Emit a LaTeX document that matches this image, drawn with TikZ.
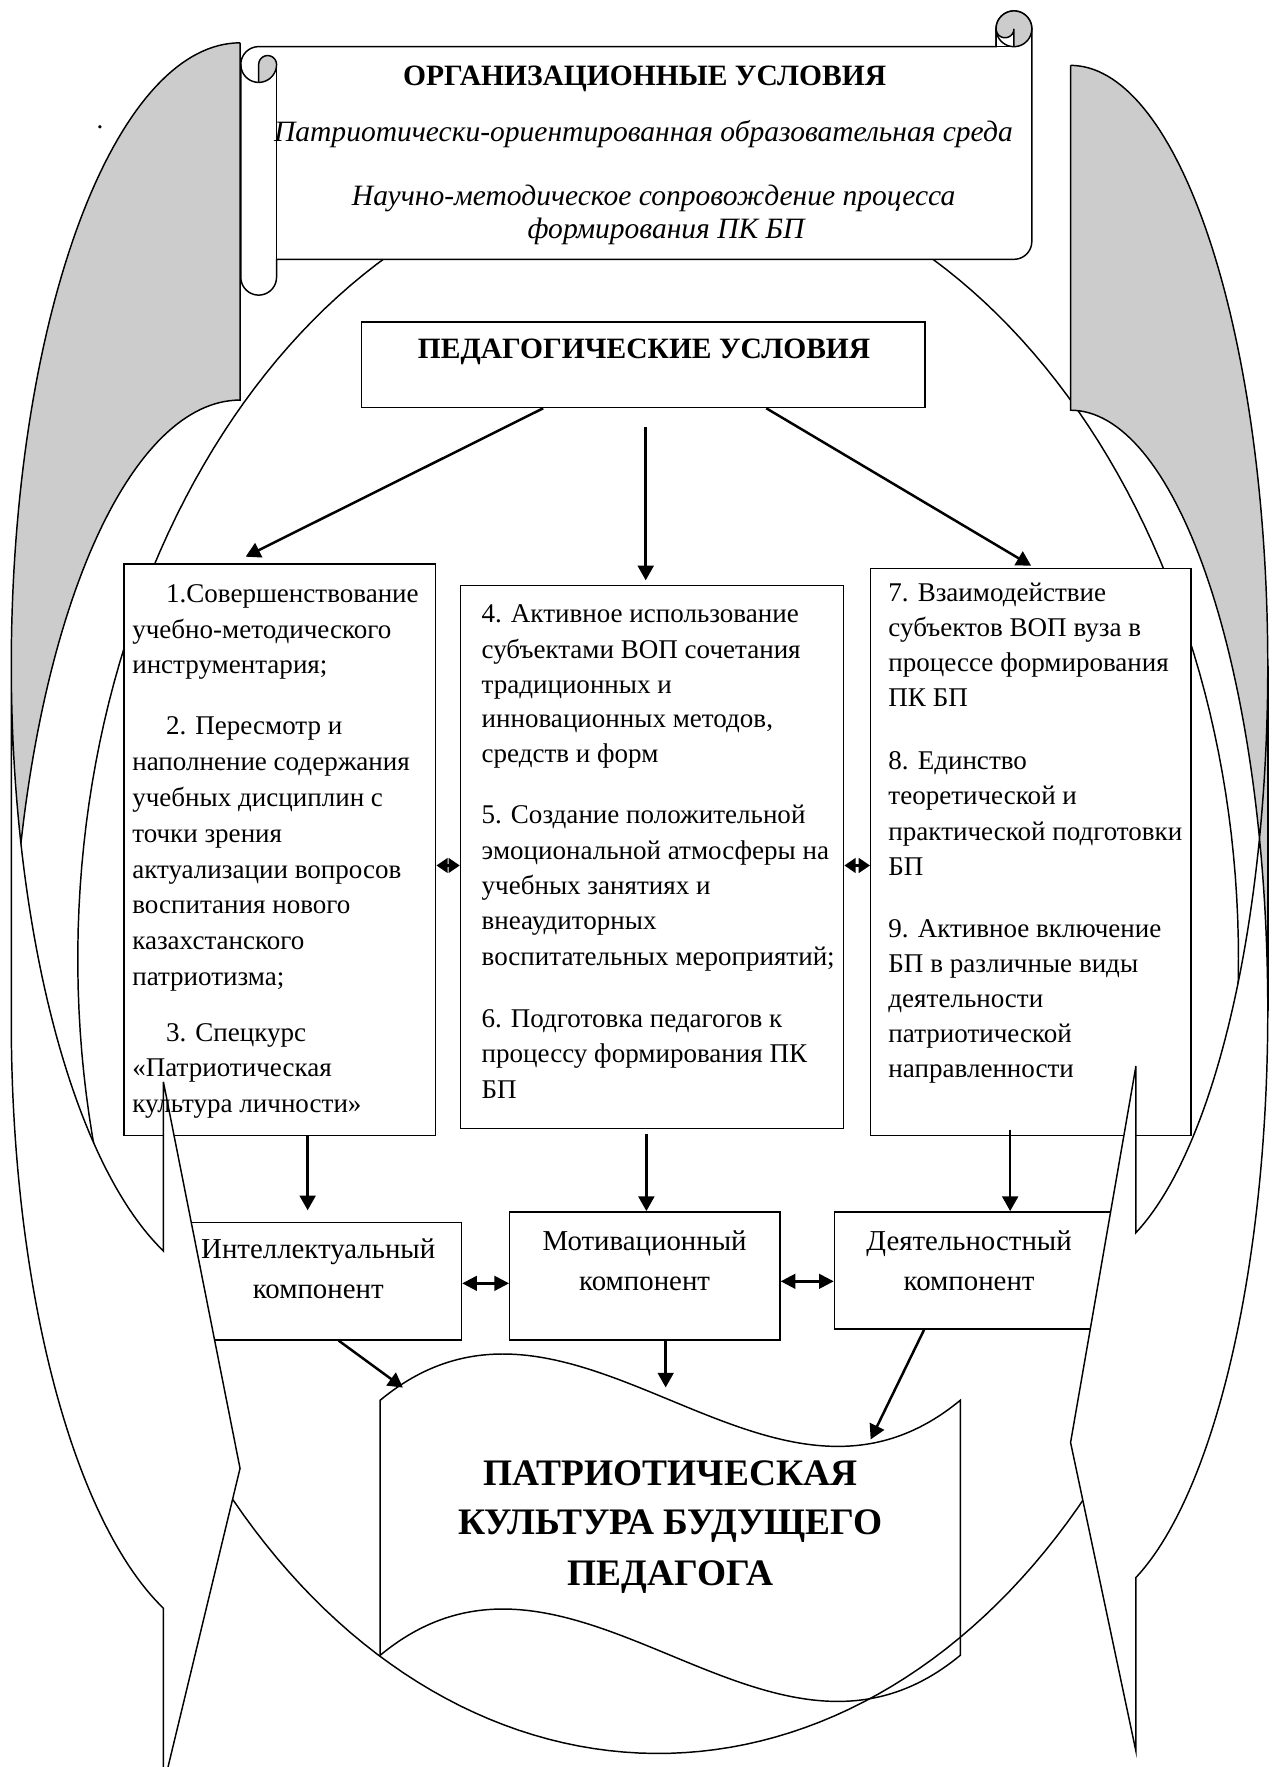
\documentclass[tikz,border=0pt]{standalone}
\usepackage{fontspec}
\setmainfont{Liberation Serif}
\usetikzlibrary{arrows.meta,calc}
\begin{document}
\begin{tikzpicture}[x=0.5pt,y=-0.5pt,
  shp/.style={draw=black,line width=0.65pt},
  wbox/.style={shp,fill=white,rectangle,inner sep=0pt,anchor=north west},
  conn/.style={line width=1.1pt,-{Triangle[length=6.5pt,width=7pt]}},
  dconn/.style={line width=1.1pt,{Triangle[length=5pt,width=6.5pt]}-{Triangle[length=5pt,width=6.5pt]}},
  dconnw/.style={line width=1.1pt,{Triangle[length=6.5pt,width=6.5pt]}-{Triangle[length=6.5pt,width=6.5pt]}},
  body/.style={inner sep=0pt,anchor=base west,font=\fontsize{12}{15}\selectfont},
  cbody/.style={inner sep=0pt,anchor=base,font=\fontsize{12.8}{15}\selectfont},
  head/.style={inner sep=0pt,anchor=base,font=\fontsize{13.1}{15}\selectfont\bfseries},
  ital/.style={inner sep=0pt,anchor=base,font=\fontsize{13.1}{15}\selectfont\itshape},
  big/.style={inner sep=0pt,anchor=base,font=\fontsize{16.6}{20}\selectfont\bfseries},
  grayfill/.style={fill=black!20}
]
\useasboundingbox (0,0) rectangle (1128,1568);
\fill[white] (0,0) rectangle (1128,1568);

% central ellipse
\draw[shp] plot[domain=0:360,samples=240,variable=\t] ({584+515*cos(\t)},{851-705*sin(\t)}) -- cycle;

% scroll
\path[shp,fill=white] plot[domain=180:90,samples=20,variable=\t] ({229.55+15.85*cos(\t)},{57.25-15.85*sin(\t)})
  -- (883.9,41.4) -- (883.9,25.55)
  -- plot[domain=180:0,samples=30,variable=\t] ({899.75+15.85*cos(\t)},{25.55-15.85*sin(\t)})
  -- (915.6,214.25)
  -- plot[domain=0:-90,samples=15,variable=\t] ({899.75+15.85*cos(\t)},{214.25-15.85*sin(\t)})
  -- (245.4,230.1) -- (245.4,246)
  -- plot[domain=0:-180,samples=30,variable=\t] ({229.55+15.85*cos(\t)},{246-15.85*sin(\t)})
  -- cycle;
% right curl
\fill[grayfill] (899.75,25.55) circle[radius=7.925pt];
\fill[white] (883.9,41.4) -- (883.9,25.55)
  -- plot[domain=180:360,samples=20,variable=\t] ({891.825+7.925*cos(\t)},{25.55-7.925*sin(\t)})
  -- (899.75,41.4) -- cycle;
\draw[shp] plot[domain=90:-270,samples=60,variable=\t] ({899.75+15.85*cos(\t)},{25.55-15.85*sin(\t)});
\draw[shp] (883.9,41.4) -- (883.9,25.55) -- plot[domain=180:360,samples=20,variable=\t] ({891.825+7.925*cos(\t)},{25.55-7.925*sin(\t)}) -- (899.75,41.4);
\draw[shp] (883.9,41.4) -- (899.75,41.4);
% left curl
\path[shp,grayfill] (229.55,73.1) -- (229.55,57.25)
  -- plot[domain=180:0,samples=20,variable=\t] ({237.475+7.925*cos(\t)},{57.25-7.925*sin(\t)})
  -- plot[domain=0:-90,samples=15,variable=\t] ({229.55+15.85*cos(\t)},{57.25-15.85*sin(\t)});
\draw[shp] plot[domain=-90:-180,samples=15,variable=\t] ({229.55+15.85*cos(\t)},{57.25-15.85*sin(\t)});
\draw[shp] (245.4,57.25) -- (245.4,230.1);

% boxes
\node[wbox,minimum width=250pt,minimum height=38pt] (ped) at (320,285) {};
\node[wbox,minimum width=138.25pt,minimum height=253.5pt] (b1) at (109.5,500) {};
\node[wbox,minimum width=170pt,minimum height=240.85pt] (b2) at (408,519) {};
\node[wbox,minimum width=142pt,minimum height=251.5pt] (b3) at (772,504) {};
\node[wbox,minimum width=126.45pt,minimum height=52.15pt] (intel) at (156,1084) {};
\node[wbox,minimum width=119.9pt,minimum height=56.85pt] (motiv) at (451.7,1074.7) {};
\node[wbox,minimum width=127.6pt,minimum height=52pt] (activ) at (739.8,1074.7) {};

% left curved arrow
\path[fill=white] plot[domain=180:250.43,samples=60,variable=\t] ({213+203*cos(\t)},{590-552*sin(\t)})
  -- (145,960) -- (213,1303) -- (145,1585)
  -- plot[domain=250.43:180,samples=60,variable=\t] ({213+203*cos(\t)},{907-552*sin(\t)}) -- cycle;
\path[grayfill] plot[domain=90:196.69,samples=80,variable=\t] ({213+203*cos(\t)},{590-552*sin(\t)})
  -- plot[domain=163.31:90,samples=60,variable=\t] ({213+203*cos(\t)},{907-552*sin(\t)}) -- cycle;
\draw[shp] plot[domain=90:250.43,samples=120,variable=\t] ({213+203*cos(\t)},{590-552*sin(\t)})
  -- (145,960) -- (213,1303) -- (145,1585)
  -- plot[domain=250.43:180,samples=60,variable=\t] ({213+203*cos(\t)},{907-552*sin(\t)}) -- (10,590);
\draw[shp] plot[domain=163.31:90,samples=60,variable=\t] ({213+203*cos(\t)},{907-552*sin(\t)}) -- (213,38);

% right curved arrow
\path[fill=white] plot[domain=0:-70.65,samples=60,variable=\t] ({950+175*cos(\t)},{591-533*sin(\t)})
  -- (1008,946) -- (950,1280) -- (1008,1554)
  -- plot[domain=-70.65:0,samples=60,variable=\t] ({950+175*cos(\t)},{897-533*sin(\t)}) -- cycle;
\path[grayfill] plot[domain=90:0,samples=60,variable=\t] ({950+175*cos(\t)},{591-533*sin(\t)})
  -- plot[domain=0:90,samples=60,variable=\t] ({950+175*cos(\t)},{897-533*sin(\t)}) -- cycle;
\draw[shp] plot[domain=90:-70.65,samples=120,variable=\t] ({950+175*cos(\t)},{591-533*sin(\t)})
  -- (1008,946) -- (950,1280) -- (1008,1554)
  -- plot[domain=-70.65:90,samples=120,variable=\t] ({950+175*cos(\t)},{897-533*sin(\t)}) -- (950,58);
\draw[shp] (1125,591) -- (1125,897);

% wave
\draw[shp] (337.4,1242.5) .. controls (509,1100.5) and (680.6,1384.5) .. (852.2,1242.5)
  -- (852.2,1468.8) .. controls (680.6,1610.8) and (509,1326.8) .. (337.4,1468.8) -- cycle;
\coordinate (wt1) at (357.5,1231.3);
\coordinate (wt2) at (590.7,1231.2);
\coordinate (wt3) at (772.6,1277.3);

% connectors
\draw[conn] (ped.south -| 482,0) -- ($(b1.north -| 218,0)+(0,-6)$);
\draw[conn] ($(ped.south -| 573,0)+(0,17)$) -- ($(b2.north -| 573,0)+(0,-4)$);
\draw[conn] (ped.south -| 680,0) -- ($(b3.north -| 915,0)+(0,-2)$);
\draw[conn] (b1.south -| 273,0) -- ($(intel.north -| 273,0)+(0,-10)$);
\draw[conn] ($(b2.south -| 573.6,0)+(0,4)$) -- (motiv.north -| 573.6,0);
\draw[conn] ($(b3.south -| 896.4,0)+(0,-6)$) -- (activ.north -| 896.4,0);
\draw[dconn] (b1.east |- 0,768) -- (b2.west |- 0,768);
\draw[dconn] (b2.east |- 0,768) -- (b3.west |- 0,768);
\draw[dconnw] (intel.east |- 0,1138.8) -- (motiv.west |- 0,1138.8);
\draw[dconnw] (motiv.east |- 0,1137) -- (activ.west |- 0,1137);
\draw[conn] (intel.south -| 300.5,0) -- (wt1);
\draw[conn] (motiv.south -| 590.7,0) -- (wt2);
\draw[conn] (activ.south -| 820,0) -- (wt3);

% texts
\node[inner sep=0pt,anchor=base,font=\fontsize{12}{14}\selectfont] (dot) at (88.7,114) {.};
\node[head] (s1) at (572,76) {ОРГАНИЗАЦИОННЫЕ УСЛОВИЯ};
\node[ital] (s2) at (571,126) {Патриотически-ориентированная образовательная среда};
\node[ital] (s3) at (580,182) {Научно-методическое сопровождение процесса};
\node[ital] (s4) at (591,212) {формирования ПК БП};
\node[head] (p1) at (571.5,318) {ПЕДАГОГИЧЕСКИЕ УСЛОВИЯ};

\node[body] (a1) at (147,535) {1.Совершенствование};
\node[body] (a2) at (117,566.5) {учебно-методического};
\node[body] (a3) at (117,598) {инструментария;};
\node[body] (a4) at (147,652) {2. Пересмотр и};
\node[body] (a5) at (117,683.8) {наполнение содержания};
\node[body] (a6) at (117,715.6) {учебных дисциплин с};
\node[body] (a7) at (117,747.4) {точки зрения};
\node[body] (a8) at (117,779.2) {актуализации вопросов};
\node[body] (a9) at (117,811) {воспитания нового};
\node[body] (a10) at (117,842.8) {казахстанского};
\node[body] (a11) at (117,874.6) {патриотизма;};
\node[body] (a12) at (147,924) {3. Спецкурс};
\node[body] (a13) at (117,955.5) {«Патриотическая};
\node[body] (a14) at (117,987) {культура личности»};

\node[body] (c1) at (427,552) {4. Активное использование};
\node[body] (c2) at (427,584) {субъектами ВОП сочетания};
\node[body] (c3) at (427,615) {традиционных и};
\node[body] (c4) at (427,646) {инновационных методов,};
\node[body] (c5) at (427,677) {средств и форм};
\node[body] (c6) at (427,731) {5. Создание положительной};
\node[body] (c7) at (427,763) {эмоциональной атмосферы на};
\node[body] (c8) at (427,794) {учебных занятиях и};
\node[body] (c9) at (427,825) {внеаудиторных};
\node[body] (c10) at (427,857) {воспитательных мероприятий;};
\node[body] (c11) at (427,912) {6. Подготовка педагогов к};
\node[body] (c12) at (427,943) {процессу формирования ПК};
\node[body] (c13) at (427,975) {БП};

\node[body] (d1) at (788,534) {7. Взаимодействие};
\node[body] (d2) at (788,565) {субъектов ВОП вуза в};
\node[body] (d3) at (788,596) {процессе формирования};
\node[body] (d4) at (788,627) {ПК БП};
\node[body] (d5) at (788,683) {8. Единство};
\node[body] (d6) at (788,714) {теоретической и};
\node[body] (d7) at (788,746) {практической подготовки};
\node[body] (d8) at (788,777) {БП};
\node[body] (d9) at (788,832) {9. Активное включение};
\node[body] (d10) at (788,863) {БП в различные виды};
\node[body] (d11) at (788,894) {деятельности};
\node[body] (d12) at (788,925) {патриотической};
\node[body] (d13) at (788,956) {направленности};

\node[cbody] (i1) at (282.4,1117) {Интеллектуальный};
\node[cbody] (i2) at (282.4,1152) {компонент};
\node[cbody] (m1) at (572,1110) {Мотивационный};
\node[cbody] (m2) at (572,1145) {компонент};
\node[cbody] (e1) at (860,1110) {Деятельностный};
\node[cbody] (e2) at (860,1145) {компонент};

\node[big] (w1) at (595,1318) {ПАТРИОТИЧЕСКАЯ};
\node[big] (w2) at (595,1362) {КУЛЬТУРА БУДУЩЕГО};
\node[big] (w3) at (595,1406.6) {ПЕДАГОГА};
\end{tikzpicture}
\end{document}
